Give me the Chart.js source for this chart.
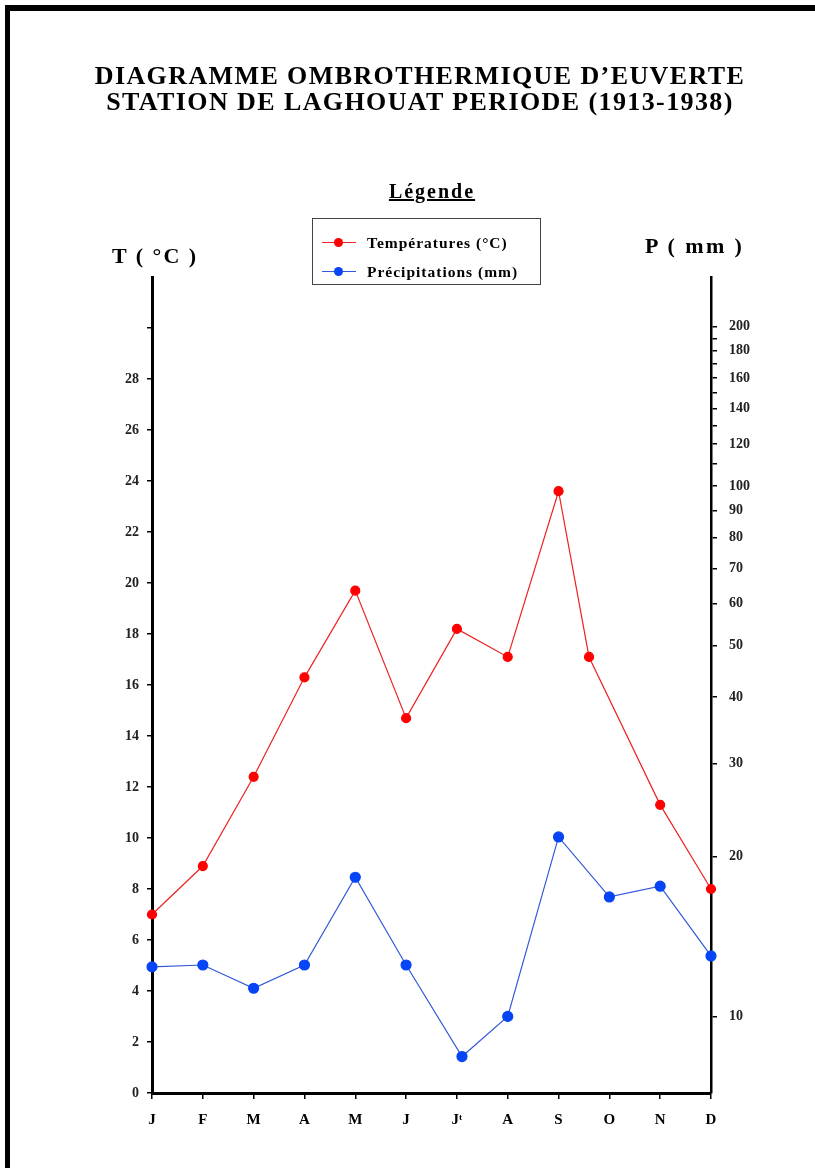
<!DOCTYPE html>
<html>
<head>
<meta charset="utf-8">
<script src="https://cdn.jsdelivr.net/npm/chart.js@4"></script>
<style>
  body { margin: 0; background: #fff; width: 815px; height: 1168px; overflow: hidden; position: relative; }
  #frame { position: absolute; left: 5px; top: 5px; width: 830px; height: 1200px;
           border-left: 5px solid #000; border-top: 6px solid #000; box-sizing: border-box; }
  #c { position: absolute; left: 0; top: 0; }
  .serif { font-family: "Liberation Serif", "DejaVu Serif", serif; font-weight: bold; color: #000; }
  #title { position: absolute; left: 0; top: 63px; width: 840px; text-align: center;
           font-size: 26px; line-height: 26px; letter-spacing: 1.4px; }
  #legendHead { position: absolute; left: 332px; top: 180px; width: 200px; text-align: center;
                font-size: 20px; letter-spacing: 2px; text-decoration: underline; }
  #legendBox { position: absolute; left: 312px; top: 218px; width: 229px; height: 67px;
               border: 1.5px solid #444; box-sizing: border-box; padding: 9px 0 0 9px; }
  .row { height: 29px; font-size: 15.5px; letter-spacing: 1px; white-space: nowrap; display: flex; align-items: center; }
  .sample { position: relative; width: 34px; height: 10px; margin-right: 11px; display: inline-block; }
  .sample .ln { position: absolute; left: 0; right: 0; top: 4.5px; height: 1.3px; }
  .sample .dot { position: absolute; left: 12px; top: 0.5px; width: 9px; height: 9px; border-radius: 50%; }
  .axtitle { position: absolute; font-size: 22px; letter-spacing: 2px; }
</style>
</head>
<body>
<div id="frame"></div>
<canvas id="c" width="815" height="1168"></canvas>
<div id="title" class="serif">DIAGRAMME OMBROTHERMIQUE D’EUVERTE<br>STATION DE LAGHOUAT PERIODE (1913-1938)</div>
<div id="legendHead" class="serif">Légende</div>
<div id="legendBox" class="serif"></div>
<div class="axtitle serif" style="left:112px; top:243px;">T ( °C )</div>
<div class="axtitle serif" style="left:645px; top:233px; letter-spacing:2.4px;">P ( mm )</div>
<script>
// months on the x axis
const monthLabels = ['J', 'F', 'M', 'A', 'M', 'J', 'Jᵗ', 'A', 'S', 'O', 'N', 'D'];

// temperatures (°C), left axis; the October point sits a little before its month in the original
const tempPos = [0, 1, 2, 3, 4, 5, 6, 7, 8, 8.6, 10, 11];
const tempValues = [7.0, 8.9, 12.4, 16.3, 19.7, 14.7, 18.2, 17.1, 23.6, 17.1, 11.3, 8.0];

// precipitation (mm), right log axis
const precipPos = [0, 1, 2, 3, 4, 5, 6.1, 7, 8, 9, 10, 11];
const precipValues = [12.4, 12.5, 11.3, 12.5, 18.3, 12.5, 8.4, 10.0, 21.8, 16.8, 17.6, 13.0];

// tick values
const tempTicks = [0, 2, 4, 6, 8, 10, 12, 14, 16, 18, 20, 22, 24, 26, 28, 30];
const tempLabelled = [0, 2, 4, 6, 8, 10, 12, 14, 16, 18, 20, 22, 24, 26, 28];
const precipTicks = [10, 20, 30, 40, 50, 60, 70, 80, 90, 100, 110, 120, 130, 140, 150, 160, 170, 180, 190, 200];
const precipLabelled = [10, 20, 30, 40, 50, 60, 70, 80, 90, 100, 120, 140, 160, 180, 200];

const serif = '"Liberation Serif", "DejaVu Serif", serif';

const chart = new Chart(document.getElementById('c'), {
    type: 'line',
    data: {
        datasets: [
            {
                label: 'Températures (°C)',
                data: tempPos.map((x, i) => ({ x: x, y: tempValues[i] })),
                yAxisID: 'yT',
                borderColor: '#ee2222',
                backgroundColor: '#ff0000',
                pointBackgroundColor: '#ff0000',
                pointBorderColor: '#ff0000',
                borderWidth: 1.2,
                pointRadius: 4.5,
                tension: 0,
                clip: false,
            },
            {
                label: 'Précipitations (mm)',
                data: precipPos.map((x, i) => ({ x: x, y: precipValues[i] })),
                yAxisID: 'yP',
                borderColor: '#3458d8',
                backgroundColor: '#0645f5',
                pointBackgroundColor: '#0645f5',
                pointBorderColor: '#0645f5',
                borderWidth: 1.2,
                pointRadius: 5,
                tension: 0,
                clip: false,
            },
        ],
    },
    options: {
        responsive: false,
        animation: false,
        layout: { padding: { left: 92, right: 44, top: 277, bottom: 35 } },
        plugins: { legend: { display: false }, tooltip: { enabled: false } },
        scales: {
            x: {
                type: 'linear',
                min: 0,
                max: 11,
                afterBuildTicks: (s) => { s.ticks = monthLabels.map((_, i) => ({ value: i })); },
                afterFit: (s) => { s.height = 40; },
                border: { display: true, color: '#000', width: 3 },
                grid: { drawOnChartArea: false, drawTicks: true, tickLength: 6, color: '#000', lineWidth: 1.5 },
                ticks: {
                    autoSkip: false,
                    maxRotation: 0,
                    padding: 12,
                    color: '#000',
                    font: { family: serif, size: 15, weight: 'bold' },
                    callback: (v) => monthLabels[v] ?? '',
                },
            },
            yT: {
                position: 'left',
                min: 0,
                max: 32,
                afterBuildTicks: (s) => { s.ticks = tempTicks.map(v => ({ value: v })); },
                afterFit: (s) => { s.width = 60; },
                border: { display: true, color: '#000', width: 3 },
                grid: { drawOnChartArea: false, drawTicks: true, tickLength: 5, color: '#000', lineWidth: 1.5 },
                ticks: {
                    autoSkip: false,
                    padding: 8,
                    color: '#222',
                    font: { family: serif, size: 14, weight: 'bold' },
                    callback: (v) => tempLabelled.includes(v) ? String(v) : '',
                },
            },
            yP: {
                type: 'logarithmic',
                position: 'right',
                min: 7.17,
                max: 248,
                afterBuildTicks: (s) => { s.ticks = precipTicks.map(v => ({ value: v })); },
                afterFit: (s) => { s.width = 60; },
                border: { display: true, color: '#000', width: 2.5 },
                grid: { drawOnChartArea: false, drawTicks: true, tickLength: 6, color: '#000', lineWidth: 1.5 },
                ticks: {
                    autoSkip: false,
                    padding: 12,
                    color: '#222',
                    font: { family: serif, size: 14, weight: 'bold' },
                    callback: (v) => precipLabelled.includes(v) ? String(v) : '',
                },
            },
        },
    },
});

// legend box built from the chart's datasets
const box = document.getElementById('legendBox');
chart.data.datasets.forEach(ds => {
    const row = document.createElement('div');
    row.className = 'row';
    row.innerHTML = '<span class="sample"><span class="ln" style="background:' + ds.borderColor +
        '"></span><span class="dot" style="background:' + ds.pointBackgroundColor + '"></span></span>' + ds.label;
    box.appendChild(row);
});
</script>
</body>
</html>
